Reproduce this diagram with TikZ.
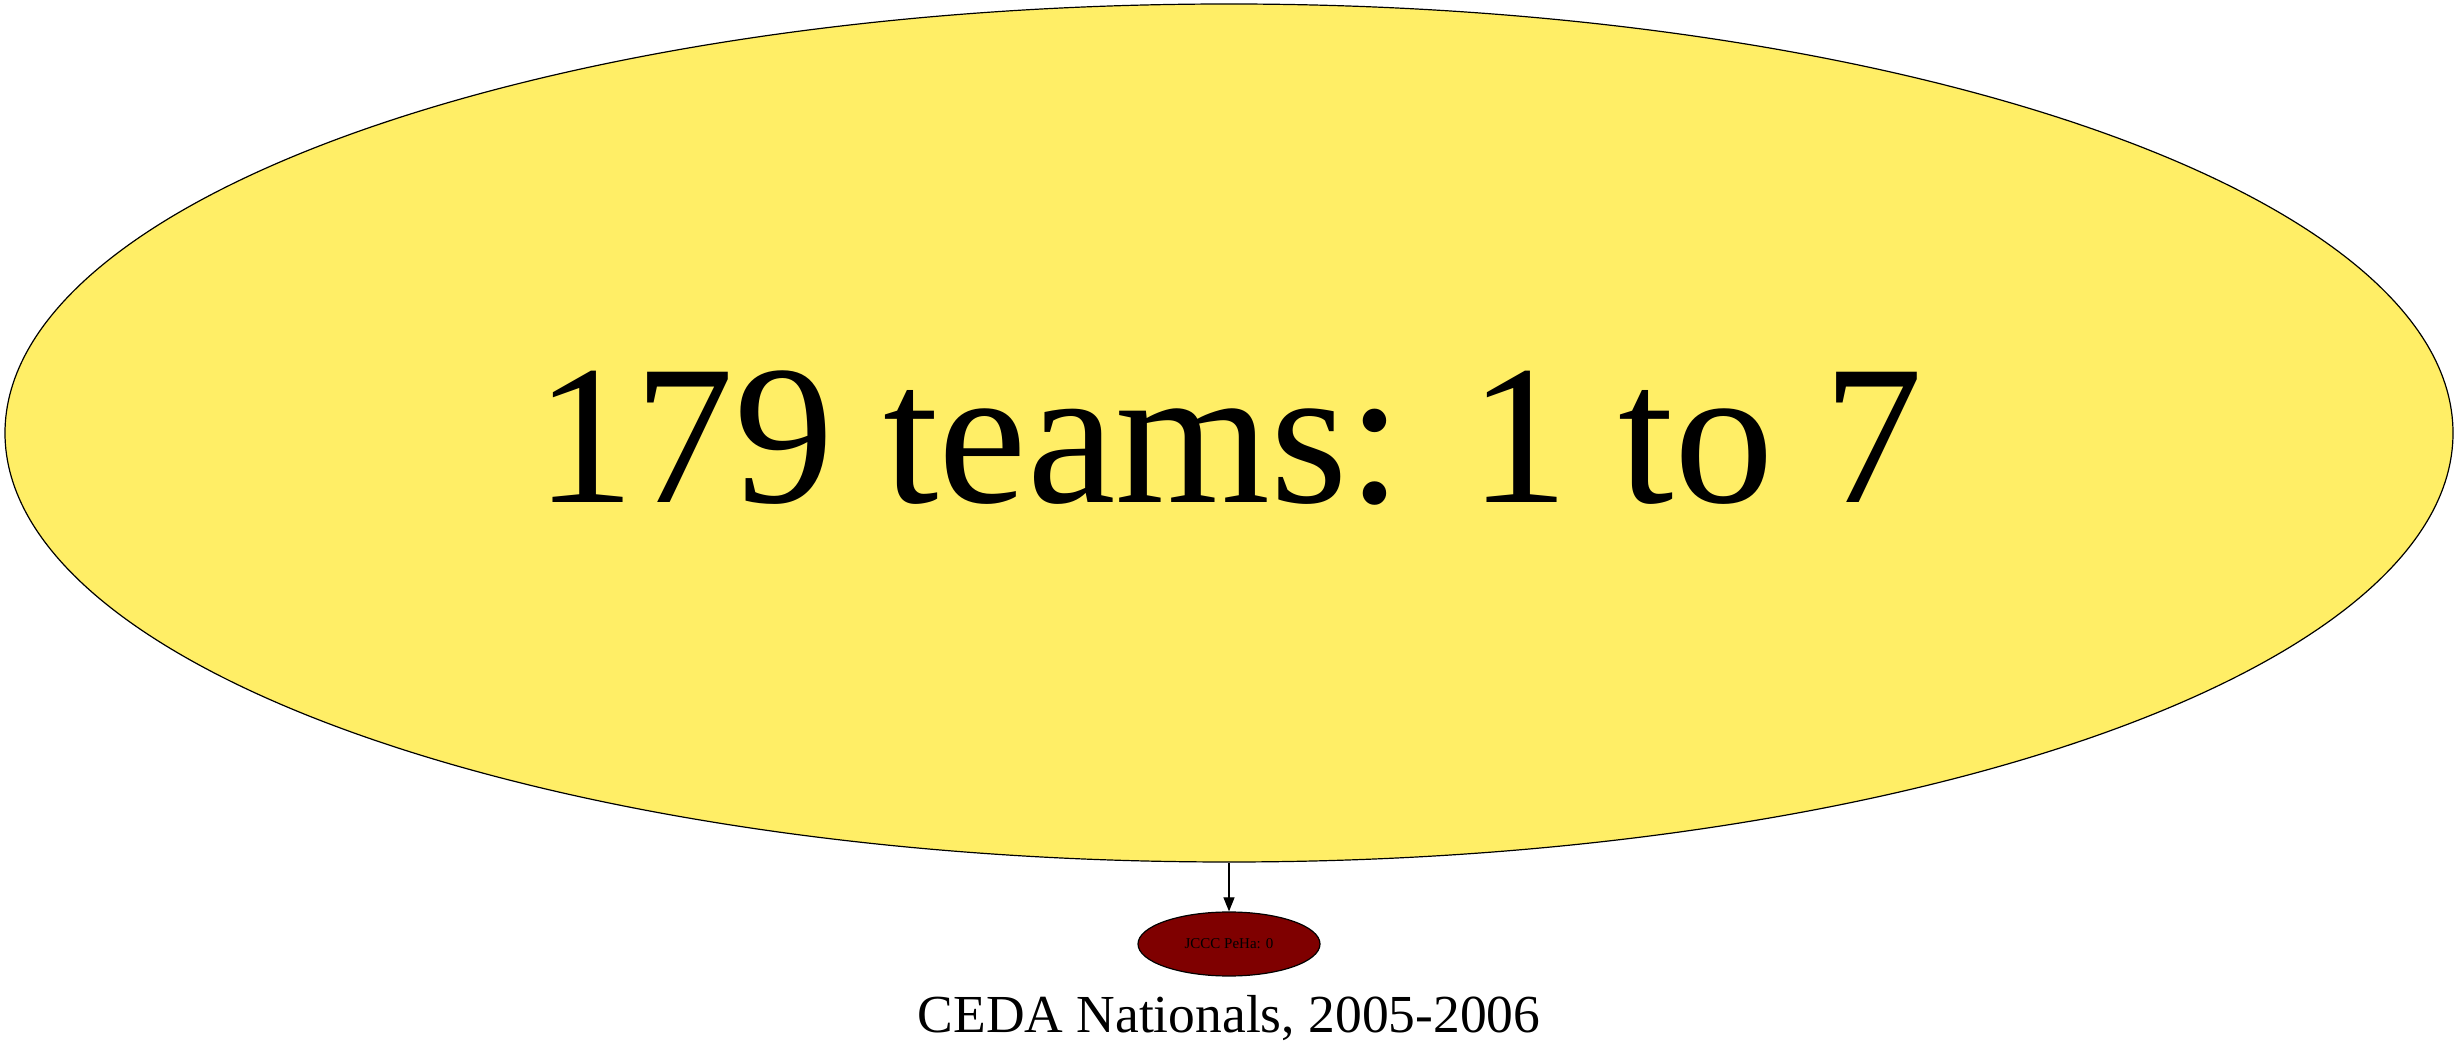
\documentclass[tikz,border=0pt]{standalone}
\usepackage{fontspec}
\setmainfont{Liberation Serif}
\usetikzlibrary{shapes.geometric,arrows.meta}
\definecolor{bigyellow}{RGB}{255,238,102}
\definecolor{darkred}{RGB}{127,0,0}
\begin{document}
\begin{tikzpicture}[x=1pt,y=1pt,
  oval/.style={ellipse,draw=black,line width=1.2pt,inner sep=0pt},
  edge/.style={line width=1.2pt,-{Triangle[length=14pt,width=11pt]}}]
\useasboundingbox (0,0) rectangle (2459,1052);
\node[oval,fill=bigyellow,minimum width=2448pt,minimum height=858pt] (big) at (1229,619) {};
\node[font=\fontsize{199}{220}\selectfont] (bigtext) at (1229,614) {179 teams: 1 to 7};
\node[oval,fill=darkred,minimum width=182pt,minimum height=64pt,
  font=\fontsize{15}{17}\selectfont] (small) at (1229,108) {JCCC PeHa: 0};
\draw[edge] (big.south) -- (small.north);
\node[font=\fontsize{53.5}{58}\selectfont,anchor=base] (title) at (1229,20) {CEDA Nationals, 2005-2006};
\end{tikzpicture}
\end{document}
